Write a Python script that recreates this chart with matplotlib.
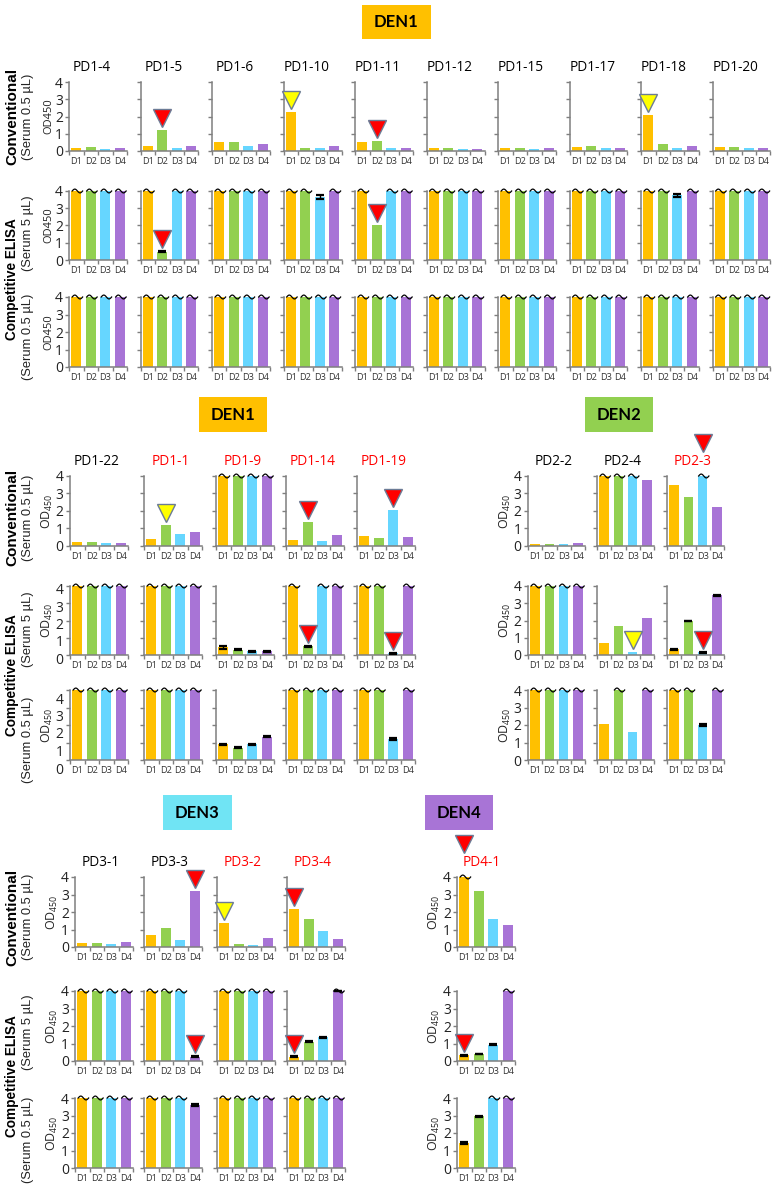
import numpy as np
import matplotlib
matplotlib.use("Agg")
import matplotlib.pyplot as plt
from matplotlib.patches import Rectangle
from matplotlib.transforms import ScaledTranslation, blended_transform_factory

plt.rcParams['font.family'] = ['Open Sans', 'DejaVu Sans']
plt.rcParams['mathtext.fontset'] = 'custom'
plt.rcParams['mathtext.rm'] = 'Open Sans'

W, H = 776, 1187

doses = ["D1", "D2", "D3", "D4"]
dose_colors = ["#FFC000", "#92D050", "#66D6FF", "#A874D6"]
rows = ["conv", "comp5", "comp05"]
SAT = 4  # plate reader ceiling

# DEN1, top block
top_names = ["PD1-4", "PD1-5", "PD1-6", "PD1-10", "PD1-11",
             "PD1-12", "PD1-15", "PD1-17", "PD1-18", "PD1-20"]
top_conv = [[0.2, 0.25, 0.1, 0.15], [0.3, 1.22, 0.15, 0.3], [0.55, 0.5, 0.28, 0.38],
            [2.25, 0.15, 0.15, 0.28], [0.5, 0.6, 0.15, 0.18], [0.15, 0.18, 0.1, 0.1],
            [0.15, 0.18, 0.1, 0.15], [0.23, 0.28, 0.18, 0.18], [2.1, 0.38, 0.15, 0.28],
            [0.23, 0.23, 0.15, 0.18]]
top_comp5 = [[4, 4, 4, 4], [4, 0.48, 4, 4], [4, 4, 4, 4], [4, 4, 3.65, 4], [4, 2.05, 4, 4],
             [4, 4, 4, 4], [4, 4, 4, 4], [4, 4, 4, 4], [4, 4, 3.75, 4], [4, 4, 4, 4]]
top_comp05 = [[4, 4, 4, 4] for _ in top_names]

# DEN1, middle block
mid1_names = ["PD1-22", "PD1-1", "PD1-9", "PD1-14", "PD1-19"]
mid1_conv = [[0.2, 0.2, 0.15, 0.15], [0.42, 1.22, 0.7, 0.82], [4, 4, 4, 4],
             [0.33, 1.38, 0.3, 0.65], [0.55, 0.48, 2.05, 0.5]]
mid1_comp5 = [[4, 4, 4, 4], [4, 4, 4, 4], [0.45, 0.3, 0.22, 0.22],
              [4, 0.5, 4, 4], [4, 4, 0.1, 4]]
mid1_comp05 = [[4, 4, 4, 4], [4, 4, 4, 4], [0.9, 0.7, 0.9, 1.33],
               [4, 4, 4, 4], [4, 4, 1.2, 4]]

# DEN2
mid2_names = ["PD2-2", "PD2-4", "PD2-3"]
mid2_conv = [[0.12, 0.12, 0.12, 0.18], [4, 4, 4, 3.78], [3.5, 2.78, 4, 2.2]]
mid2_comp5 = [[4, 4, 4, 4], [0.7, 1.68, 0.18, 2.12], [0.32, 1.98, 0.15, 3.45]]
mid2_comp05 = [[4, 4, 4, 4], [2.05, 4, 1.6, 4], [4, 4, 2.0, 4]]

# DEN3
bot3_names = ["PD3-1", "PD3-3", "PD3-2", "PD3-4"]
bot3_conv = [[0.25, 0.25, 0.2, 0.3], [0.7, 1.08, 0.38, 3.2],
             [1.4, 0.15, 0.1, 0.5], [2.15, 1.58, 0.92, 0.43]]
bot3_comp5 = [[4, 4, 4, 4], [4, 4, 4, 0.25], [4, 4, 4, 4], [0.25, 1.1, 1.35, 4]]
bot3_comp05 = [[4, 4, 4, 4], [4, 4, 4, 3.6], [4, 4, 4, 4], [4, 4, 4, 4]]

# DEN4
bot4_names = ["PD4-1"]
bot4_conv = [[4, 3.18, 1.6, 1.28]]
bot4_comp5 = [[0.33, 0.4, 0.92, 4]]
bot4_comp05 = [[1.45, 2.95, 4, 4]]

errors = {
    ("PD1-5", "comp5"): [0, 0.02, 0, 0],
    ("PD1-10", "comp5"): [0, 0, 0.12, 0],
    ("PD1-18", "comp5"): [0, 0, 0.08, 0],
    ("PD1-9", "comp5"): [0.1, 0.03, 0.02, 0.03],
    ("PD1-14", "comp5"): [0, 0.02, 0, 0],
    ("PD1-19", "comp5"): [0, 0, 0.02, 0],
    ("PD1-9", "comp05"): [0.03, 0.02, 0.02, 0.02],
    ("PD1-19", "comp05"): [0, 0, 0.04, 0],
    ("PD2-3", "comp5"): [0.02, 0.02, 0.03, 0.03],
    ("PD2-3", "comp05"): [0, 0, 0.08, 0],
    ("PD3-3", "comp5"): [0, 0, 0, 0.02],
    ("PD3-4", "comp5"): [0.02, 0.02, 0.03, 0.02],
    ("PD3-3", "comp05"): [0, 0, 0, 0.08],
    ("PD4-1", "comp5"): [0.02, 0.02, 0.03, 0],
    ("PD4-1", "comp05"): [0.06, 0.02, 0, 0],
}

# arrowheads: (panel, row, dose index, colour)
marks = [
    ("PD1-5", "conv", 1, "red"), ("PD1-10", "conv", 0, "yellow"),
    ("PD1-11", "conv", 1, "red"), ("PD1-18", "conv", 0, "yellow"),
    ("PD1-5", "comp5", 1, "red"), ("PD1-11", "comp5", 1, "red"),
    ("PD1-1", "conv", 1, "yellow"), ("PD1-14", "conv", 1, "red"),
    ("PD1-19", "conv", 2, "red"), ("PD1-14", "comp5", 1, "red"),
    ("PD1-19", "comp5", 2, "red"), ("PD2-4", "comp5", 2, "yellow"),
    ("PD2-3", "comp5", 2, "red"), ("PD3-3", "conv", 3, "red"),
    ("PD3-2", "conv", 0, "yellow"), ("PD3-4", "conv", 0, "red"),
    ("PD3-3", "comp5", 3, "red"), ("PD3-4", "comp5", 0, "red"),
    ("PD4-1", "comp5", 0, "red"),
]
title_marks = [("PD2-3", 2), ("PD4-1", 0)]
red_titles = ["PD1-1", "PD1-9", "PD1-14", "PD1-19", "PD2-3", "PD3-2", "PD3-4", "PD4-1"]

gray = "#7F7F7F"
fig = plt.figure(figsize=(W / 100, H / 100), dpi=100)
panels = {}


def px_axes(left, top, bottom, width):
    return fig.add_axes([left / W, 1 - bottom / H, width / W, (bottom - top) / H])


def px_off(dy):
    return ScaledTranslation(0, dy / 100, fig.dpi_scale_trans)


def draw_block(names, data, lefts, width, row_px, ylab, ylab_size, title_dx, shifts=(0, 0, 0)):
    for j, name in enumerate(names):
        for r, (top, bottom) in enumerate(row_px):
            ax = px_axes(lefts[j], top, bottom, width)
            vals = data[r][j]
            x = np.arange(len(doses))
            ax.bar(x, vals, width=0.68, color=dose_colors, zorder=2)
            errs = errors.get((name, rows[r]))
            if errs:
                for xi, v, e in zip(x, vals, errs):
                    if e > 0:
                        ax.errorbar(xi, v, yerr=e, fmt="none", ecolor="black", elinewidth=1,
                                    capsize=3, capthick=1.6, zorder=3, clip_on=False)
            # saturated wells get a "~" on top
            t = np.linspace(-np.pi, np.pi, 40)
            for xi, v in zip(x, vals):
                if v >= SAT:
                    ax.plot(xi + 0.08 + 0.36 * t / np.pi, SAT - 0.11 * np.sin(t), color="black",
                            lw=0.9, clip_on=False, zorder=4)
            ax.set_xlim(-0.5, 3.5)
            ax.set_ylim(0, 4)
            ax.set_yticks(range(5))
            ax.set_xticks(x)
            ax.set_xticklabels(doses, fontsize=6.6, color="#333333")
            ax.set_xticks(np.arange(-0.5, 4, 1), minor=True)
            ax.tick_params(axis="x", which="major", length=0, pad=4.5)
            ax.tick_params(axis="x", which="minor", length=3, width=1, color=gray, direction="out")
            ax.tick_params(axis="y", length=3, width=1, color=gray, labelsize=10,
                           labelcolor="#222222", pad=1.5, labelleft=(j == 0))
            for s in ["top", "right"]:
                ax.spines[s].set_visible(False)
            for s in ["left", "bottom"]:
                ax.spines[s].set_color(gray)
                ax.spines[s].set_linewidth(1.1)
            ax.patch.set_alpha(0)
            if j == 0:
                ax.set_ylabel(ylab, fontsize=ylab_size, color="#222222")
                ax.yaxis.set_label_coords(-15 / width, 0.5)
                if shifts[r]:
                    for lbl in ax.get_yticklabels():
                        lbl.set_transform(lbl.get_transform() + px_off(-shifts[r]))
            if r == 0:
                ax.annotate(name, xy=(0.5 + title_dx / width, 1), xycoords="axes fraction",
                            xytext=(0, 10.5), textcoords="offset points", ha="center", va="center",
                            fontsize=9.8, color="#FF0000" if name in red_titles else "black")
            panels[(name, rows[r])] = (ax, vals, errs)


sub_lab = "OD$_{\\mathrm{450}}$"
draw_block(top_names, [top_conv, top_comp5, top_comp05],
           [69 + 71.5 * k for k in range(10)], 58, [(82, 151), (191, 260), (297, 367)],
           "OD450", 8, -6)
draw_block(mid1_names, [mid1_conv, mid1_comp5, mid1_comp05],
           [70, 144, 216, 286, 357], 58, [(476, 546), (586, 655), (690, 760)],
           sub_lab, 9, -2, shifts=(0, 3, 8))
draw_block(mid2_names, [mid2_conv, mid2_comp5, mid2_comp05],
           [528, 597, 667], 57, [(476, 546), (586, 655), (690, 760)],
           sub_lab, 9, -3)
draw_block(bot3_names, [bot3_conv, bot3_comp5, bot3_comp05],
           [75, 144, 217, 287], 58, [(877, 947), (991, 1061), (1098, 1168)],
           sub_lab, 9, -3)
draw_block(bot4_names, [bot4_conv, bot4_comp5, bot4_comp05],
           [457], 58, [(877, 947), (991, 1061), (1098, 1168)],
           sub_lab, 9, -4)

tri_colors = {"red": "#FF0000", "yellow": "#FFFF00"}
for name, row, i, c in marks:
    ax, vals, errs = panels[(name, row)]
    top = vals[i] + (errs[i] if errs else 0)
    ax.plot([i], [top], marker="v", ms=13, mfc=tri_colors[c], mec="#6B7B96", mew=1,
            transform=ax.transData + px_off(12), clip_on=False, zorder=6)
for name, i in title_marks:
    ax = panels[(name, "conv")][0]
    tr = blended_transform_factory(ax.transData, ax.transAxes)
    ax.plot([i], [1], marker="v", ms=13, mfc="#FF0000", mec="#6B7B96", mew=1,
            transform=tr + px_off(33), clip_on=False, zorder=6)


def fig_text(x, y, s, **kw):
    fig.text(x / W, 1 - y / H, s, ha="center", va="center", **kw)


# serotype header boxes
for label, (x0, y0, x1, y1), col in [("DEN1", (362, 5, 431, 39), "#FFC000"),
                                     ("DEN1", (199, 397, 267, 432), "#FFC000"),
                                     ("DEN2", (585, 397, 653, 432), "#92D050"),
                                     ("DEN3", (163, 795, 232, 830), "#70E4F4"),
                                     ("DEN4", (425, 795, 493, 830), "#A874D6")]:
    fig.add_artist(Rectangle((x0 / W, 1 - y1 / H), (x1 - x0) / W, (y1 - y0) / H,
                             transform=fig.transFigure, facecolor=col, edgecolor="none"))
    fig_text((x0 + x1) / 2, (y0 + y1) / 2, label, fontsize=12, fontweight="bold",
             family=["Lato", "DejaVu Sans"], color="black")

# row labels on the left
side = dict(family=["Liberation Sans", "DejaVu Sans"], rotation=90)
for yc_conv, yc_comp, serum_y in [(116, 279, (117, 233, 337)),
                                  (517, 675, (518, 629, 740)),
                                  (917, 1076, (917, 1032, 1140))]:
    fig_text(12, yc_conv, "Conventional", fontsize=11, fontweight="bold", **side)
    fig_text(12, yc_comp, "Competitive ELISA", fontsize=9.8, fontweight="bold", **side)
    for yy, s in zip(serum_y, ["(Serum 0.5 µL)", "(Serum 5 µL)", "(Serum 0.5 µL)"]):
        fig_text(28, yy, s, fontsize=9.3, color="#222222", **side)

fig.savefig("out.png", dpi=100)
